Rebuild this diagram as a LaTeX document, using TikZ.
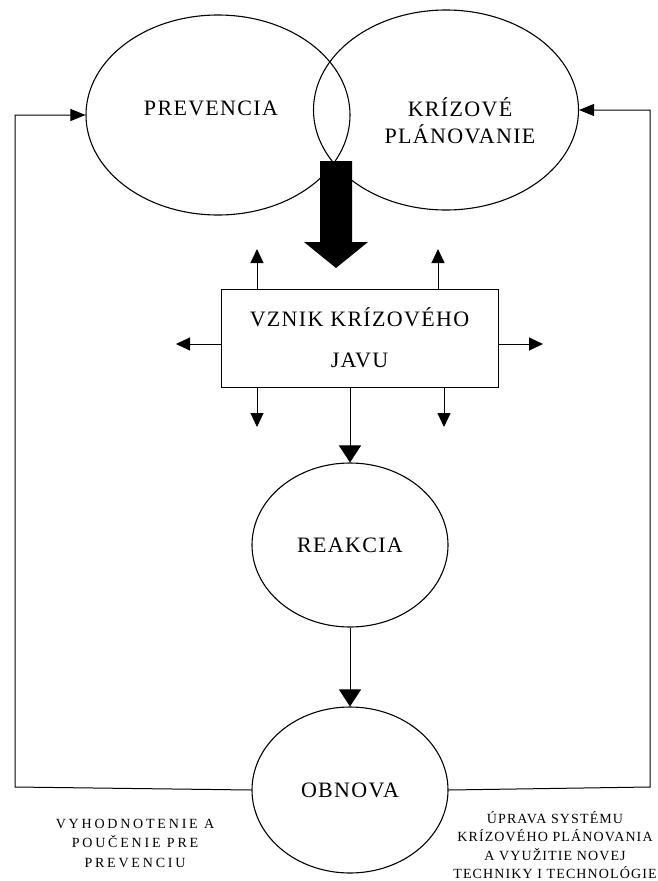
\documentclass[tikz,border=0pt]{standalone}
\usepackage{fontspec}
\setmainfont{Liberation Serif}
\newfontfamily\bigspaced[LetterSpace=6]{Liberation Serif}
\newfontfamily\smallspaced[LetterSpace=8]{Liberation Serif}
\newfontfamily\widespaced[LetterSpace=20]{Liberation Serif}
\usetikzlibrary{shapes.geometric,arrows.meta}
\begin{document}
\begin{tikzpicture}[x=1pt,y=-1pt,
  line width=1pt,
  bigtext/.style={font=\bigspaced\fontsize{22}{26}\selectfont, align=center, inner sep=0pt},
  smalltext/.style={font=\smallspaced\fontsize{14}{18.5}\selectfont, align=center, inner sep=0pt},
  widetext/.style={font=\widespaced\fontsize{14}{19.5}\selectfont, align=center, inner sep=0pt},
  oval/.style={draw, ellipse, inner sep=0pt, line width=1.1pt},
  stub/.style={-{Triangle[length=14pt,width=13pt]}},
  mainarrow/.style={-{Triangle[length=17pt,width=22pt]}},
  feedback/.style={-{Triangle[length=15pt,width=12pt]}}
]
\useasboundingbox (0,0) rectangle (657,881);

% ellipses
\node[oval, minimum width=264pt, minimum height=200pt] (prev) at (218,115) {};
\node[oval, minimum width=265pt, minimum height=200pt] (plan) at (446,110) {};
\node[bigtext] (prevtxt) at (211,108) {PREVENCIA};
\node[bigtext] (plantxt) at (460,121) {KRÍZOVÉ\\[1pt]PLÁNOVANIE};

% crisis box
\node[draw, rectangle, minimum width=277pt, minimum height=98pt, inner sep=0pt, bigtext] (box) at (359.5,338) {VZNIK KRÍZOVÉHO\\[15pt]JAVU};

% thick block arrow
\fill (320,161) -- (352,161) -- (352,242) -- (368,242) -- (336,268) -- (304,242) -- (320,242) -- cycle;

% reaction and recovery
\node[oval, minimum width=196pt, minimum height=164pt, bigtext] (reak) at (350,545) {REAKCIA};
\node[oval, minimum width=196pt, minimum height=166pt, bigtext] (obn) at (350,790) {OBNOVA};

% stubs
\coordinate (u1) at (257,249);
\coordinate (u2) at (438,249);
\coordinate (d1) at (257,427);
\coordinate (d2) at (444,427);
\coordinate (l1) at (176,344);
\coordinate (r1) at (543,344);
\draw[stub] (box.north -| u1) -- (u1);
\draw[stub] (box.north -| u2) -- (u2);
\draw[stub] (box.south -| d1) -- (d1);
\draw[stub] (box.south -| d2) -- (d2);
\draw[stub] (box.west |- l1) -- (l1);
\draw[stub] (box.east |- r1) -- (r1);

% main flow
\draw[mainarrow] (box.south -| reak.north) -- (reak.north);
\draw[mainarrow] (reak.south) -- (obn.north);

% feedback loops
\coordinate (lb) at (15,787);
\coordinate (rb) at (650,787);
\draw[feedback] (obn.west) -- (lb) |- (prev.west);
\draw[feedback] (obn.east) -- (rb) |- (plan.east);

% labels
\node[widetext] (lefttxt) at (135,843) {VYHODNOTENIE A\\POUČENIE PRE\\PREVENCIU};
\node[smalltext] (righttxt) at (555,845) {ÚPRAVA SYSTÉMU\\KRÍZOVÉHO PLÁNOVANIA\\A VYUŽITIE NOVEJ\\TECHNIKY I TECHNOLÓGIE};
\end{tikzpicture}
\end{document}
